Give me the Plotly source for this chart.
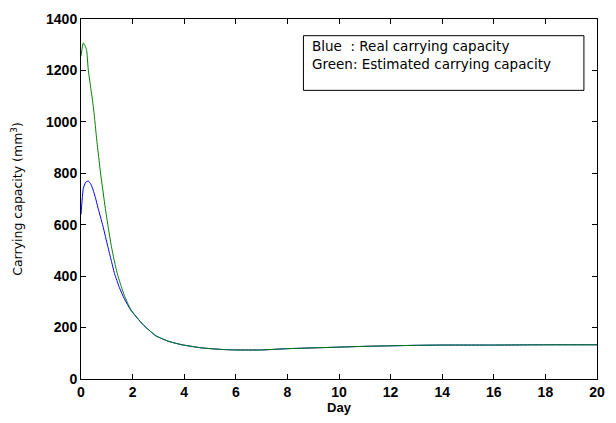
import plotly.graph_objects as go

# Data
blue_day = [0, 0.09, 0.18, 0.28, 0.38, 0.47, 0.56, 0.66, 0.85, 1.04, 1.17, 1.30, 1.49, 1.68, 1.93,
            2.39, 2.90, 3.41, 3.92, 4.68, 5.44, 6.0, 7.0, 8.0, 9.0, 10.0, 11.0, 12.0, 13.0,
            14.0, 16.0, 18.0, 20.0]
blue_val = [640, 741, 765, 770, 758, 735, 705, 665, 595, 515, 462, 410, 355, 312, 268,
            213, 168, 146, 133, 121, 115, 113, 113, 118, 121, 124, 127, 129, 131,
            132, 132, 133, 133]

green_day = [0, 0.09, 0.21, 0.28, 0.38, 0.47, 0.53, 0.60, 0.69, 0.74, 0.92, 1.04, 1.17, 1.30,
             1.42, 1.56, 1.68, 1.93, 2.39, 2.90, 3.41, 3.92, 4.68, 5.44, 6.0, 7.0, 8.0, 9.0,
             10.0, 11.0, 12.0, 13.0, 14.0, 16.0, 18.0, 20.0]
green_val = [1256, 1307, 1282, 1205, 1130, 1065, 1010, 940, 860, 815, 680, 600, 520, 455,
             405, 360, 325, 270, 213, 168, 146, 133, 121, 115, 113, 113, 118, 121,
             124, 127, 129, 131, 132, 132, 133, 133]

x_ticks = list(range(0, 21, 2))
y_ticks = list(range(0, 1401, 200))

legend_lines = ["Blue\u00a0\u00a0: Real carrying capacity", "Green: Estimated carrying capacity"]

fig = go.Figure()
fig.add_trace(go.Scatter(x=blue_day, y=blue_val, mode="lines",
                         line=dict(color="#0000ff", width=1, shape="spline", smoothing=0.5),
                         showlegend=False))
fig.add_trace(go.Scatter(x=green_day, y=green_val, mode="lines",
                         line=dict(color="#008000", width=1, shape="spline", smoothing=0.5),
                         showlegend=False))

# plot area geometry in pixels
L, R, T, B = 80.7, 605.0, 12.3, 379.0
W, H = 616, 423


def px(xp):
    return (xp - L) / (R - L)


def py(yp):
    return (B - yp) / (B - T)


fig.add_shape(type="rect", xref="paper", yref="paper",
              x0=px(306.7), x1=px(591.7), y0=py(85), y1=py(29.3),
              line=dict(color="#000000", width=1), fillcolor="white")
fig.add_annotation(xref="paper", yref="paper", x=px(313), y=py(49),
                   xanchor="left", yanchor="middle", showarrow=False, align="left",
                   text="<br>".join(legend_lines),
                   font=dict(family="DejaVu Sans", size=13.5, color="#000000"))

axis_common = dict(showline=True, linecolor="#000000", linewidth=1, mirror="ticks",
                   ticks="inside", ticklen=5, tickcolor="#000000", showgrid=False,
                   zeroline=False,
                   tickfont=dict(family="Liberation Sans", size=14, color="#000000"))

fig.update_layout(
    width=W, height=H,
    margin=dict(l=L, r=W - R, t=T, b=H - B, pad=0),
    plot_bgcolor="white", paper_bgcolor="white",
    xaxis=dict(range=[0, 20], tickvals=x_ticks, ticktext=["<b>%d</b>" % v for v in x_ticks],
               title=dict(text="<b>Day</b>", standoff=2,
                          font=dict(family="Liberation Sans", size=13, color="#000000")),
               **axis_common),
    yaxis=dict(range=[0, 1400], tickvals=y_ticks, ticktext=["<b>%d</b>" % v for v in y_ticks],
               title=dict(text="Carrying capacity (mm<sup>3</sup>)", standoff=20,
                          font=dict(family="DejaVu Sans", size=12.5, color="#000000")),
               **axis_common),
)

fig.write_html("out.html")
